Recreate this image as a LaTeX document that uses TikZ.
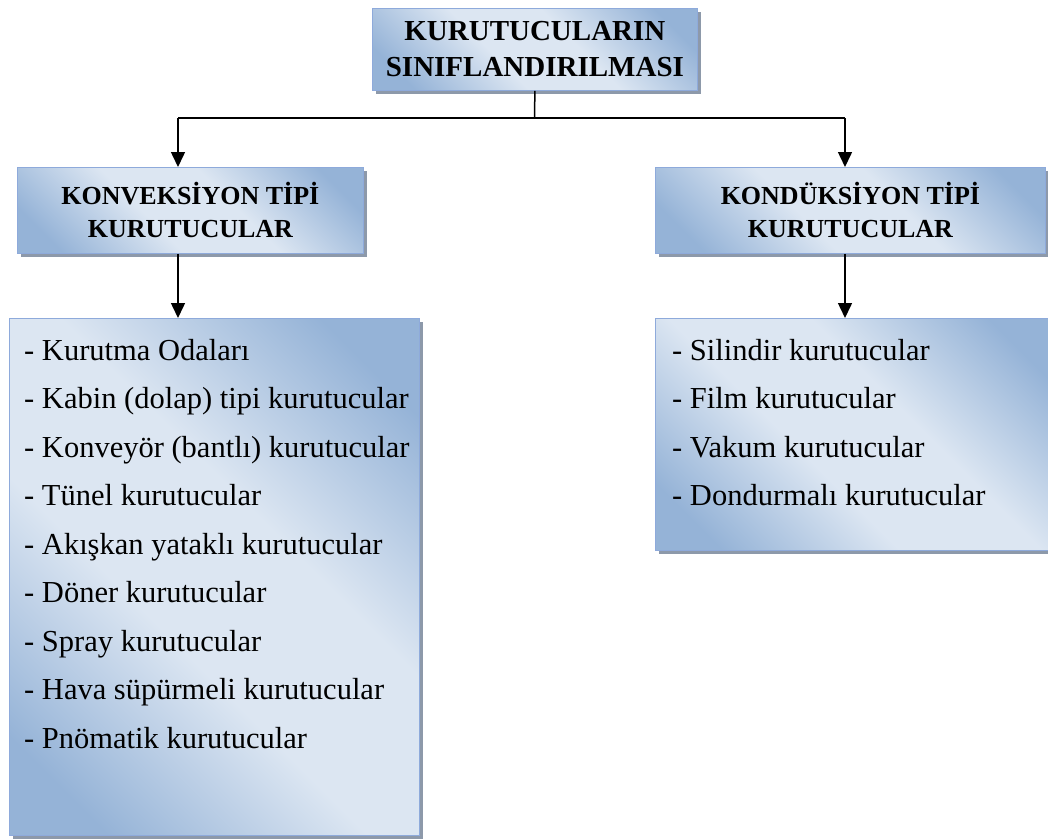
\documentclass[tikz,border=0pt]{standalone}
\usepackage{fontspec}
\setmainfont{Liberation Serif}
\usetikzlibrary{arrows.meta,shadows}
\definecolor{boxblue}{HTML}{95B3D7}
\definecolor{boxlight}{HTML}{DCE6F2}
\definecolor{boxedge}{HTML}{8EAADB}
\definecolor{shadowgray}{HTML}{8D99AA}
% diagonal fill: blue corners, wide pale band through the middle
\pgfdeclareverticalshading{panelshade}{100bp}{%
  color(0bp)=(boxblue); color(22bp)=(boxblue);
  color(42bp)=(boxlight); color(58bp)=(boxlight);
  color(78bp)=(boxblue); color(100bp)=(boxblue)}
\begin{document}
\begin{tikzpicture}[x=1pt,y=-1pt,
  panel/.style={draw=boxedge, line width=0.8pt,
    shade, shading=panelshade, shading angle=-45,
    drop shadow={shadow xshift=4pt, shadow yshift=-4pt, fill=shadowgray, opacity=1},
    inner sep=0pt, anchor=north west, align=center},
  titletext/.style={font=\fontsize{29}{36}\selectfont\bfseries},
  headtext/.style={font=\fontsize{26}{33}\selectfont\bfseries},
  item/.style={anchor=base west, inner sep=0pt, font=\fontsize{30.5}{37}\selectfont},
  conn/.style={line width=1.5pt, draw=black},
  arrowconn/.style={conn, -{Triangle[length=15pt,width=14pt]}}]
  \useasboundingbox (0,0) rectangle (1048,839);

  % classification title
  \node[panel, titletext, minimum width=325pt, minimum height=82pt] (title) at (372,8)
    {KURUTUCULARIN\\SINIFLANDIRILMASI};

  % the two dryer families
  \node[panel, headtext, minimum width=346pt, minimum height=86pt] (konv) at (17,167)
    {KONVEKS\.IYON T\.IP\.I\\KURUTUCULAR};
  \node[panel, headtext, minimum width=390pt, minimum height=86pt] (kond) at (655,167)
    {KOND\"UKS\.IYON T\.IP\.I\\KURUTUCULAR};

  % lists of dryer types
  \node[panel, minimum width=410pt, minimum height=517pt] (konvlist) at (9,318) {};
  \node[panel, minimum width=400pt, minimum height=232pt] (kondlist) at (655,318) {};

  \node[item] (k1) at (24,360) {- Kurutma Odaları};
  \node[item] (k2) at (24,408.5) {- Kabin (dolap) tipi kurutucular};
  \node[item] (k3) at (24,457) {- Konveyör (bantlı) kurutucular};
  \node[item] (k4) at (24,505.5) {- Tünel kurutucular};
  \node[item] (k5) at (24,554) {- Akışkan yataklı kurutucular};
  \node[item] (k6) at (24,602.5) {- Döner kurutucular};
  \node[item] (k7) at (24,651) {- Spray kurutucular};
  \node[item] (k8) at (24,699.5) {- Hava süpürmeli kurutucular};
  \node[item] (k9) at (24,748) {- Pnömatik kurutucular};

  \node[item] (d1) at (672,360) {- Silindir kurutucular};
  \node[item] (d2) at (672,408.5) {- Film kurutucular};
  \node[item] (d3) at (672,457) {- Vakum kurutucular};
  \node[item] (d4) at (672,505.5) {- Dondurmalı kurutucular};

  % connectors
  \coordinate (hub) at (534.5,118);
  \coordinate (hl) at (178,118);
  \coordinate (hr) at (845,118);
  \draw[conn] (title.south) -- (hub);
  \draw[conn] (hl) -- (hr);
  \draw[arrowconn] (hl) -- (hl |- konv.north);
  \draw[arrowconn] (hr) -- (hr |- kond.north);
  \draw[arrowconn] (hl |- konv.south) -- (hl |- konvlist.north);
  \draw[arrowconn] (hr |- kond.south) -- (hr |- kondlist.north);
\end{tikzpicture}
\end{document}
